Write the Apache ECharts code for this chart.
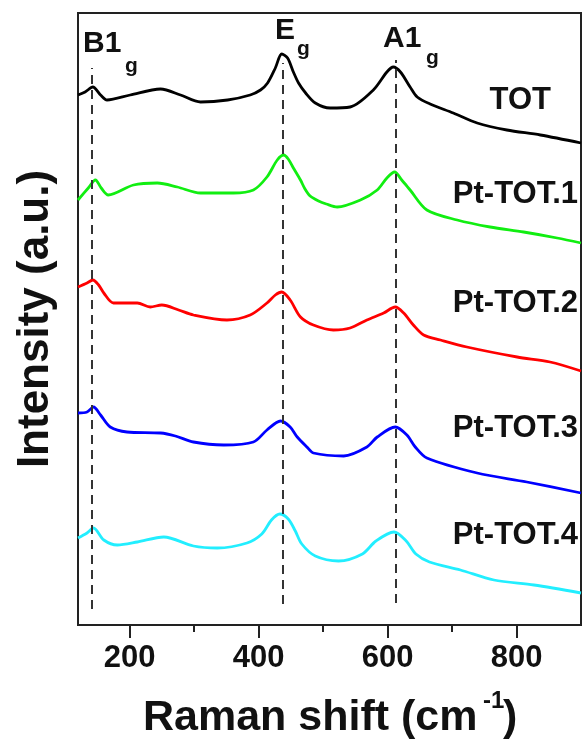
<!DOCTYPE html>
<html>
<head>
<meta charset="utf-8">
<script src="https://cdn.jsdelivr.net/npm/echarts@6/dist/echarts.min.js"></script>
<style>
    html, body { margin: 0; padding: 0; background: #fff; }
    #main { width: 586px; height: 747px; }
</style>
</head>
<body>
<div id="main"></div>
<script>
// Raman shift (cm-1) and intensity (a.u., curves stacked with an offset)
var totShift = [120, 131, 143, 155, 165, 201, 248, 279, 310, 352, 387, 403, 414, 426, 436, 445, 454, 462, 473, 488, 511, 542, 578, 599, 609, 620, 635, 646, 666, 702, 739, 785, 837, 900];
var totInt = [53.0, 53.3, 53.8, 53.0, 52.5, 53.0, 53.6, 53.0, 52.3, 52.5, 53.0, 53.5, 54.2, 55.7, 57.1, 56.7, 55.3, 54.2, 53.2, 52.2, 51.7, 51.8, 53.5, 55.3, 55.8, 55.3, 53.8, 52.8, 52.1, 51.2, 50.2, 49.5, 49.0, 48.2];

var pt1Shift = [120, 136, 147, 156, 167, 206, 243, 274, 310, 361, 392, 413, 429, 439, 446, 454, 465, 472, 480, 493, 505, 522, 558, 584, 599, 611, 622, 635, 661, 708, 759, 811, 863, 900];
var pt1Int = [42.5, 43.7, 44.5, 43.7, 43.0, 44.0, 44.2, 43.8, 43.2, 43.2, 43.5, 44.8, 46.5, 47.0, 46.6, 45.7, 44.5, 43.6, 42.9, 42.4, 42.1, 41.8, 42.5, 43.5, 44.7, 45.3, 44.5, 43.5, 41.5, 40.5, 39.8, 39.3, 38.7, 38.2];

var pt2Shift = [120, 134, 143, 152, 160, 175, 212, 232, 250, 276, 299, 351, 387, 413, 426, 436, 449, 465, 485, 516, 542, 568, 594, 612, 625, 640, 656, 682, 723, 801, 852, 900];
var pt2Int = [33.8, 34.2, 34.5, 34.0, 33.2, 32.2, 32.2, 31.8, 32.0, 31.5, 31.0, 30.5, 31.0, 32.2, 33.0, 33.3, 32.5, 30.8, 30.0, 29.5, 29.7, 30.5, 31.2, 31.8, 31.2, 30.0, 29.0, 28.5, 27.8, 26.8, 26.3, 25.4];

var pt3Shift = [120, 134, 144, 155, 170, 196, 248, 271, 299, 346, 392, 413, 434, 449, 460, 475, 485, 532, 568, 584, 612, 630, 643, 661, 739, 816, 900];
var pt3Int = [21.2, 21.3, 21.8, 21.0, 19.8, 19.3, 19.2, 18.9, 18.3, 18.0, 18.3, 19.5, 20.4, 19.8, 18.8, 17.8, 17.2, 16.9, 17.8, 18.8, 19.8, 19.0, 17.8, 16.7, 15.2, 14.3, 13.2];

var pt4Shift = [120, 134, 144, 160, 181, 212, 253, 299, 336, 382, 405, 420, 433, 446, 457, 467, 488, 524, 561, 582, 610, 629, 644, 665, 713, 765, 827, 900];
var pt4Int = [8.7, 9.2, 9.7, 8.5, 8.0, 8.3, 8.8, 7.9, 7.7, 8.2, 9.1, 10.5, 11.1, 10.6, 9.4, 8.1, 6.9, 6.4, 7.1, 8.4, 9.3, 8.4, 7.1, 6.3, 5.5, 4.5, 4.0, 3.2];

var curveNames = ['TOT', 'Pt-TOT.1', 'Pt-TOT.2', 'Pt-TOT.3', 'Pt-TOT.4'];
var curveColors = ['#000000', '#11ee11', '#ff0000', '#0000ff', '#22eeff'];

// peak assignments and dashed guide lines (shift, low end, high end)
var peakShift = [142, 438, 612];
var peakLow = [1.6, 2.1, 2.2];
var peakHigh = [55.7, 56.2, 56.5];

var majorTicks = [200, 400, 600, 800];
var minorTicks = [300, 500, 700];

var FONT = '"Liberation Sans", Arial, sans-serif';

function zip(xs, ys) {
    var out = [];
    for (var i = 0; i < xs.length; i++) {
        out.push([xs[i], ys[i]]);
    }
    return out;
}

function label(text, x, y, size, align) {
    return {
        type: 'text', x: x, y: y, silent: true,
        style: {
            text: text, fill: '#111', align: align || 'left', verticalAlign: 'middle',
            fontSize: size, fontWeight: 'bold', fontFamily: FONT
        }
    };
}

var myChart = echarts.init(document.getElementById('main'), null, {renderer: 'canvas'});

var allData = [zip(totShift, totInt), zip(pt1Shift, pt1Int), zip(pt2Shift, pt2Int),
    zip(pt3Shift, pt3Int), zip(pt4Shift, pt4Int)];

var series = allData.map(function (d, i) {
    return {
        name: curveNames[i], type: 'line', data: d, showSymbol: false, smooth: 0.3,
        lineStyle: {color: curveColors[i], width: 2.8}, z: 3
    };
});

series[0].markLine = {
    silent: true, symbol: 'none', label: {show: false},
    lineStyle: {color: '#333', width: 2, type: [9, 6]},
    data: peakShift.map(function (p, i) {
        return [{coord: [p, peakLow[i]]}, {coord: [p, peakHigh[i]]}];
    })
};

var option = {
    animation: false,
    grid: {
        left: 78, right: 5, top: 13, bottom: 122, outerBoundsMode: 'none',
        show: true, borderColor: '#222', borderWidth: 2
    },
    xAxis: [{
        type: 'value', min: 120, max: 900, position: 'bottom',
        axisLine: {lineStyle: {color: '#222', width: 2}},
        axisTick: {customValues: majorTicks, length: 13, lineStyle: {color: '#222', width: 2}},
        axisLabel: {customValues: majorTicks, margin: 18, fontSize: 31, fontWeight: 'bold', color: '#111', fontFamily: FONT},
        splitLine: {show: false}
    }, {
        type: 'value', min: 120, max: 900, position: 'bottom',
        axisLine: {show: false},
        axisTick: {customValues: minorTicks, length: 7, lineStyle: {color: '#222', width: 2}},
        axisLabel: {show: false},
        splitLine: {show: false}
    }],
    yAxis: {
        type: 'value', min: 0, max: 61.2,
        name: 'Intensity (a.u.)', nameLocation: 'middle', nameGap: 20,
        nameTextStyle: {fontSize: 44, fontWeight: 'bold', color: '#111', fontFamily: FONT},
        axisLine: {show: true, lineStyle: {color: '#222', width: 2}},
        axisTick: {show: false},
        axisLabel: {show: false},
        splitLine: {show: false}
    },
    graphic: [
        // peak labels
        label('B1', 83, 44, 30), label('g', 125, 66, 21),
        label('E', 275, 31, 30), label('g', 297, 49, 21),
        label('A1', 383, 39, 30), label('g', 426, 58, 21),
        // curve labels
        label(curveNames[0], 551, 100, 31, 'right'),
        label(curveNames[1], 578, 194, 31, 'right'),
        label(curveNames[2], 578, 303, 31, 'right'),
        label(curveNames[3], 578, 428, 31, 'right'),
        label(curveNames[4], 578, 535, 31, 'right'),
        // x axis title
        label('Raman shift (cm', 143, 718, 43), label('-1', 483, 701, 24), label(')', 503, 718, 43)
    ],
    series: series
};

myChart.setOption(option);
</script>
</body>
</html>
